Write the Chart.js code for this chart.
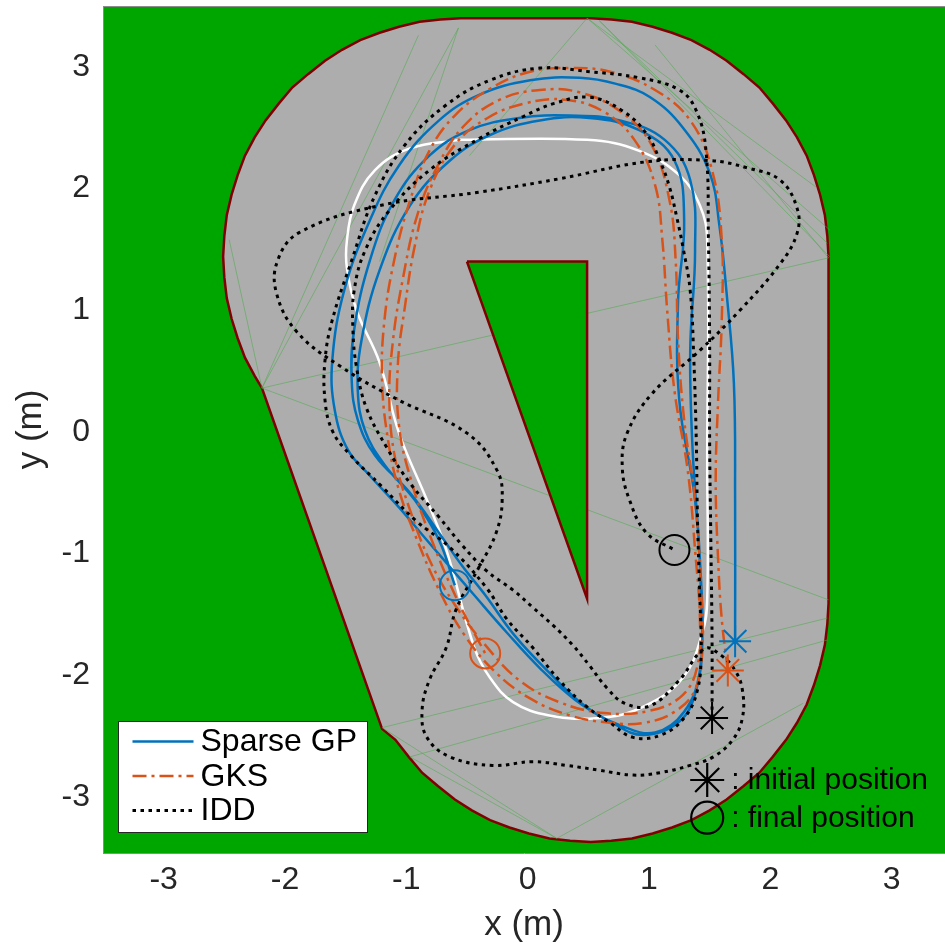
<!DOCTYPE html>
<html><head><meta charset="utf-8">
<script src="https://cdn.jsdelivr.net/npm/chart.js@4.4.1/dist/chart.umd.min.js"></script>
<style>html,body{margin:0;padding:0;background:#fff;overflow:hidden}canvas{display:block}</style>
</head><body>
<canvas id="c" width="945" height="950"></canvas>
<script>
// ---------- tick labels ----------
const xTicks = [-3, -2, -1, 0, 1, 2, 3];
const yTicks = [-3, -2, -1, 0, 1, 2, 3];
const seriesNames = ['Sparse GP', 'GKS', 'IDD'];
const noteTexts = [': initial position', ': final position'];

// ---------- environment (track outline & obstacle) ----------
const trackX = [2.48, 2.48, 2.47, 2.45, 2.41, 2.36, 2.30, 2.22, 2.13, 2.02, 1.91, 1.78, 1.64, 1.50, 1.35, 1.19, 1.03, 0.86, 0.69, 0.52,
  -0.55, -0.72, -0.89, -1.06, -1.22, -1.38, -1.53, -1.67, -1.81, -1.94, -2.05, -2.16, -2.25, -2.33, -2.39, -2.44, -2.48, -2.50, -2.51, -2.50, -2.48, -2.44, -2.39, -2.33, -2.25, -2.19,
  -1.20, -1.09, -0.98, -0.87, -0.74, -0.60, -0.46, -0.31, -0.15, 0.01, 0.18, 0.35, 0.52, 0.69, 0.86, 1.03, 1.19, 1.35, 1.50, 1.64, 1.78, 1.91, 2.02, 2.13, 2.22, 2.30, 2.36, 2.41, 2.45, 2.47, 2.48];
const trackY = [-1.41, 1.44, 1.61, 1.78, 1.95, 2.11, 2.27, 2.42, 2.56, 2.70, 2.83, 2.94, 3.05, 3.14, 3.22, 3.28, 3.33, 3.37, 3.39, 3.40,
  3.40, 3.39, 3.37, 3.33, 3.28, 3.22, 3.14, 3.05, 2.94, 2.83, 2.70, 2.56, 2.42, 2.27, 2.11, 1.95, 1.78, 1.61, 1.44, 1.27, 1.10, 0.93, 0.77, 0.61, 0.46, 0.36,
  -2.44, -2.53, -2.67, -2.80, -2.91, -3.02, -3.11, -3.19, -3.25, -3.30, -3.34, -3.36, -3.37, -3.36, -3.34, -3.30, -3.25, -3.19, -3.11, -3.02, -2.91, -2.80, -2.67, -2.53, -2.39, -2.24, -2.08, -1.92, -1.75, -1.58, -1.41];
const obstacleX = [-0.50, 0.49, 0.49, -0.50];
const obstacleY = [1.40, 1.40, -1.37, 1.40];

// triangulation mesh edges (segment endpoints)
const meshX1 = [0.49, 0.49, 0.59, 0.49, -2.19, -2.19, -2.19, -2.19, -2.19, -1.20, -0.97, -0.97, 0.24, -1.20, 1.05, 0.59, -0.57];
const meshY1 = [3.40, 3.40, 3.38, 3.40, 0.36, 0.36, 0.36, 0.36, 0.36, -2.43, -2.67, -2.67, -3.34, -2.43, 3.18, 3.38, 3.32];
const meshX2 = [2.38, 2.49, 2.49, -0.48, -0.57, -0.90, -2.46, 2.48, 2.48, 2.47, 2.47, 0.24, 2.27, 0.24, 2.48, 2.47, -1.22];
const meshY2 = [2.01, 1.66, 1.44, 2.27, 3.32, 3.26, 1.58, 1.43, -1.38, -1.53, -1.71, -3.34, -2.23, -3.34, 1.43, 1.55, 1.40];

// ---------- reference path (white) ----------
const refX = [-0.56, 0.49, 0.92, 1.25, 1.42, 1.48, 1.48, 1.48, 1.44, 1.28, 0.95, 0.59, 0.18, -0.12, -0.31, -0.44, -0.67, -0.83, -1.06, -1.22, -1.41, -1.49, -1.49, -1.43, -1.26, -0.97, -0.56];
const refY = [2.40, 2.40, 2.31, 2.11, 1.86, 1.57, -0.23, -1.38, -1.65, -2.02, -2.26, -2.35, -2.33, -2.22, -2.02, -1.77, -0.97, -0.56, -0.01, 0.57, 1.00, 1.35, 1.57, 1.86, 2.15, 2.33, 2.40];

// ---------- Sparse GP trajectory ----------
const sgpX = [1.71, 1.71, 1.70, 1.64, 1.58, 1.50, 1.28, 1.01, 0.73, 0.43, 0.02, -0.40, -0.73, -1.06, -1.30, -1.51, -1.61, -1.59, -1.48, -1.30, -1.06, -0.83, -0.64, -0.45, -0.17, 0.10, 0.39, 0.68, 0.95, 1.25, 1.39, 1.44, 1.42, 1.36, 1.34, 1.38, 1.34, 1.13, 0.76, 0.35, -0.07, -0.48, -0.81, -1.10, -1.30, -1.43, -1.45, -1.40, -1.26, -0.97, -0.73, -0.54, -0.35, -0.11, 0.17, 0.47, 0.76, 1.05, 1.29, 1.42, 1.43, 1.38, 1.25, 1.24, 1.29, 1.21, 0.92, 0.51, 0.10, -0.31, -0.64, -0.97, -1.22, -1.37, -1.40, -1.34, -1.18, -0.93, -0.73, -0.60];
const sgpY = [-1.72, -0.56, 0.40, 1.14, 1.70, 2.13, 2.50, 2.75, 2.86, 2.91, 2.89, 2.77, 2.56, 2.19, 1.74, 1.17, 0.59, 0.18, -0.15, -0.36, -0.62, -0.89, -1.11, -1.33, -1.65, -1.94, -2.20, -2.38, -2.49, -2.38, -2.12, -1.71, -1.05, -0.15, 0.67, 1.49, 2.07, 2.40, 2.56, 2.60, 2.58, 2.48, 2.27, 1.90, 1.41, 0.84, 0.42, 0.10, -0.19, -0.50, -0.83, -1.10, -1.34, -1.67, -1.97, -2.25, -2.41, -2.47, -2.30, -1.96, -1.38, -0.56, 0.26, 1.08, 1.74, 2.23, 2.48, 2.58, 2.56, 2.44, 2.23, 1.86, 1.33, 0.75, 0.34, 0.01, -0.27, -0.56, -0.89, -1.26];

// ---------- GKS trajectory ----------
const gksX = [1.65, 1.60, 1.57, 1.55, 1.57, 1.60, 1.60, 1.52, 1.34, 1.05, 0.68, 0.35, 0.02, -0.31, -0.60, -0.81, -0.97, -1.10, -1.18, -1.20, -1.15, -1.06, -0.91, -0.73, -0.52, -0.27, 0.02, 0.35, 0.68, 0.96, 1.21, 1.38, 1.44, 1.43, 1.38, 1.29, 1.24, 1.22, 1.17, 1.02, 0.77, 0.43, 0.10, -0.23, -0.52, -0.74, -0.91, -1.03, -1.11, -1.14, -1.09, -0.97, -0.81, -0.60, -0.35, -0.07, 0.26, 0.63, 1.01, 1.28, 1.40, 1.42, 1.38, 1.32, 1.21, 1.15, 1.11, 1.05, 0.88, 0.63, 0.31, -0.02, -0.33, -0.60, -0.81, -0.93, -1.01, -1.07, -1.06, -0.96, -0.79, -0.58, -0.35];
const gksY = [-1.96, -1.54, -1.05, -0.40, 0.26, 0.92, 1.58, 2.15, 2.56, 2.81, 2.96, 2.99, 2.96, 2.82, 2.60, 2.31, 1.90, 1.41, 0.92, 0.42, -0.07, -0.48, -0.89, -1.30, -1.67, -1.97, -2.19, -2.33, -2.39, -2.39, -2.30, -2.12, -1.79, -1.30, -0.56, 0.10, 0.75, 1.41, 1.90, 2.36, 2.63, 2.79, 2.81, 2.73, 2.52, 2.19, 1.78, 1.25, 0.75, 0.26, -0.23, -0.64, -1.05, -1.42, -1.75, -2.04, -2.22, -2.31, -2.29, -2.16, -1.92, -1.54, -0.97, -0.32, 0.34, 1.00, 1.58, 2.03, 2.40, 2.63, 2.73, 2.70, 2.58, 2.36, 1.98, 1.53, 1.04, 0.55, 0.05, -0.40, -0.89, -1.38, -1.82];

// ---------- IDD trajectory ----------
const iddX = [1.52, 1.52, 1.51, 1.50, 1.50, 1.49, 1.47, 1.39, 1.25, 0.92, 0.51, 0.10, -0.31, -0.68, -1.01, -1.26, -1.45, -1.61, -1.67, -1.67, -1.61, -1.47, -1.20, -0.92, -0.64, -0.34, -0.17, 0.04, 0.26, 0.49, 0.68, 0.87, 1.10, 1.29, 1.40, 1.43, 1.42, 1.40, 1.39, 1.37, 1.34, 1.28, 1.23, 1.17, 1.09, 0.98, 0.78, 0.51, 0.22, -0.04, -0.40, -0.81, -1.14, -1.34, -1.43, -1.44, -1.41, -1.33, -1.16, -0.97, -0.73, -0.54, -0.34, -0.12, 0.04, 0.21, 0.37, 0.51, 0.65, 0.80, 1.01, 1.25, 1.46, 1.60, 1.71, 1.77, 1.77, 1.69, 1.53, 1.34, 1.09, 0.87, 0.59, 0.32, 0.04, -0.29, -0.64, -0.83, -0.87, -0.81, -0.67, -0.59, -0.40, -0.26, -0.21, -0.25, -0.50, -1.06, -1.53, -1.90, -2.07, -2.06, -1.88, -1.22, -0.40, 0.26, 0.98, 1.50, 1.81, 2.08, 2.22, 2.22, 2.08, 1.75, 1.42, 1.03, 0.82, 0.78, 0.84, 0.98, 1.21];
const iddY = [-2.35, -1.71, -0.89, -0.07, 0.75, 1.58, 2.31, 2.64, 2.81, 2.91, 2.96, 2.99, 2.89, 2.68, 2.36, 1.94, 1.41, 0.92, 0.59, 0.26, 0.01, -0.18, -0.45, -0.73, -0.95, -1.28, -1.54, -1.77, -2.04, -2.26, -2.39, -2.51, -2.49, -2.35, -2.12, -1.79, -1.38, -0.73, -0.07, 0.59, 1.16, 1.52, 1.76, 2.01, 2.23, 2.45, 2.64, 2.75, 2.70, 2.59, 2.41, 2.15, 1.82, 1.49, 1.16, 0.84, 0.53, 0.20, -0.13, -0.42, -0.70, -0.93, -1.14, -1.30, -1.44, -1.59, -1.75, -1.92, -2.10, -2.23, -2.25, -2.04, -1.78, -1.84, -1.96, -2.12, -2.35, -2.53, -2.67, -2.74, -2.80, -2.82, -2.78, -2.74, -2.71, -2.74, -2.67, -2.51, -2.29, -2.04, -1.77, -1.46, -1.11, -0.83, -0.56, -0.32, -0.01, 0.26, 0.53, 0.82, 1.14, 1.41, 1.64, 1.86, 1.97, 2.08, 2.22, 2.23, 2.17, 2.07, 1.84, 1.63, 1.38, 1.00, 0.67, 0.32, -0.01, -0.29, -0.56, -0.83, -0.97];

// annotation marker positions
const noteX = [1.48, 1.48];
const noteY = [-2.86, -3.17];

// ---------- styling ----------
const FONT = "'Liberation Sans', Arial, Helvetica, sans-serif";
const C_GREEN = '#00A600', C_GRAY = '#ADADAD', C_WALL = '#800000';
const C_BLUE = '#0072BD', C_ORANGE = '#D95319', C_BLACK = '#000000';
const DASH_GKS = [14, 5, 3, 5], DASH_IDD = [3.5, 4.5];
Chart.defaults.font.family = FONT;

const zip = (xs, ys) => xs.map((x, i) => ({x: x, y: ys[i]}));
const ends = (xs, ys) => [{x: xs[0], y: ys[0]}, {x: xs[xs.length - 1], y: ys[ys.length - 1]}];

const seriesStyle = [
  {color: C_BLUE, width: 2.5, dash: []},
  {color: C_ORANGE, width: 2.5, dash: DASH_GKS},
  {color: C_BLACK, width: 3, dash: DASH_IDD}
];

function lineDs(label, xs, ys, st, order) {
  return {label: label, data: zip(xs, ys), showLine: true, borderColor: st.color, borderWidth: st.width,
    borderDash: st.dash, pointRadius: 0, tension: 0.4, fill: false, order: order, borderCapStyle: 'butt'};
}
function markerDs(xs, ys, color, order) {
  return {label: '_m', data: ends(xs, ys), showLine: false, pointStyle: ['star', 'circle'],
    pointRadius: [16, 15], borderColor: color, backgroundColor: 'rgba(0,0,0,0)', pointBorderWidth: 2,
    borderWidth: 2, order: order};
}
function noPad(s) { s.paddingTop = 0; s.paddingBottom = 0; s.paddingLeft = 0; s.paddingRight = 0; }

const bgPlugin = {
  id: 'bg',
  beforeDraw(chart) {
    const {ctx, chartArea: a} = chart;
    ctx.save(); ctx.fillStyle = C_GREEN; ctx.fillRect(a.left, a.top, a.right - a.left, a.bottom - a.top); ctx.restore();
  }
};

const meshPlugin = {
  id: 'mesh',
  afterDatasetDraw(chart, args) {
    if (args.index !== 0) return;
    const {ctx, chartArea: a, scales: {x, y}} = chart;
    ctx.save();
    ctx.beginPath(); ctx.rect(a.left, a.top, a.right - a.left, a.bottom - a.top); ctx.clip();
    ctx.strokeStyle = 'rgba(70,170,70,0.75)'; ctx.lineWidth = 0.7;
    for (let i = 0; i < meshX1.length; i++) {
      ctx.beginPath();
      ctx.moveTo(x.getPixelForValue(meshX1[i]), y.getPixelForValue(meshY1[i]));
      ctx.lineTo(x.getPixelForValue(meshX2[i]), y.getPixelForValue(meshY2[i]));
      ctx.stroke();
    }
    ctx.restore();
  }
};

const overlayPlugin = {
  id: 'overlay',
  afterDraw(chart) {
    const {ctx, chartArea: a, scales: {x, y}} = chart;
    ctx.save();
    // frame top
    ctx.strokeStyle = '#8c8c8c'; ctx.lineWidth = 1;
    ctx.beginPath(); ctx.moveTo(a.left, a.top + 0.5); ctx.lineTo(a.right, a.top + 0.5); ctx.stroke();
    // annotation texts
    ctx.fillStyle = '#000'; ctx.font = '30px ' + FONT; ctx.textAlign = 'left'; ctx.textBaseline = 'alphabetic';
    for (let i = 0; i < noteTexts.length; i++) {
      ctx.fillText(noteTexts[i], x.getPixelForValue(noteX[i]) + 24, y.getPixelForValue(noteY[i]) + 9);
    }
    // legend
    const bx = a.left + 15.5, by = a.bottom - 131.5, bw = 249, bh = 111;
    ctx.fillStyle = '#fff'; ctx.fillRect(bx, by, bw, bh);
    ctx.strokeStyle = '#262626'; ctx.lineWidth = 1; ctx.strokeRect(bx, by, bw, bh);
    ctx.font = '32px ' + FONT; ctx.textBaseline = 'middle';
    for (let i = 0; i < seriesNames.length; i++) {
      const yy = by + 20 + i * 34.5;
      const st = seriesStyle[i];
      ctx.strokeStyle = st.color; ctx.lineWidth = st.width; ctx.setLineDash(st.dash); ctx.lineCap = 'butt';
      ctx.beginPath(); ctx.moveTo(bx + 14, yy); ctx.lineTo(bx + 75, yy); ctx.stroke();
      ctx.setLineDash([]);
      ctx.fillStyle = '#000'; ctx.fillText(seriesNames[i], bx + 82, yy + 1);
    }
    ctx.restore();
  }
};

new Chart(document.getElementById('c'), {
  type: 'scatter',
  data: {
    datasets: [
      {label: '_track', data: zip(trackX, trackY), showLine: true, fill: 'shape', backgroundColor: C_GRAY,
        borderColor: C_WALL, borderWidth: 2.5, pointRadius: 0, tension: 0, order: 20},
      {label: '_obstacle', data: zip(obstacleX, obstacleY), showLine: true, fill: 'shape', backgroundColor: C_GREEN,
        borderColor: C_WALL, borderWidth: 2.5, pointRadius: 0, tension: 0, order: 19},
      {label: '_ref', data: zip(refX, refY), showLine: true, borderColor: '#FFFFFF', borderWidth: 2.5,
        pointRadius: 0, tension: 0.4, fill: false, order: 18},
      lineDs(seriesNames[0], sgpX, sgpY, seriesStyle[0], 17),
      lineDs(seriesNames[1], gksX, gksY, seriesStyle[1], 16),
      lineDs(seriesNames[2], iddX, iddY, seriesStyle[2], 15),
      markerDs(sgpX, sgpY, C_BLUE, 3),
      markerDs(gksX, gksY, C_ORANGE, 2),
      markerDs(iddX, iddY, C_BLACK, 1),
      {label: '_notes', data: zip(noteX, noteY), showLine: false, pointStyle: ['star', 'circle'], pointRadius: [17, 16],
        borderColor: C_BLACK, backgroundColor: 'rgba(0,0,0,0)', pointBorderWidth: 2.2, borderWidth: 2.2, order: 0, clip: false}
    ]
  },
  options: {
    responsive: false, animation: false, devicePixelRatio: 1,
    layout: {autoPadding: false, padding: {top: 6, right: 0, left: 0, bottom: 0}},
    plugins: {legend: {display: false}, tooltip: {enabled: false}},
    scales: {
      x: {
        type: 'linear', position: 'bottom', min: -3.5, max: 3.44,
        grid: {display: false, drawTicks: false}, border: {display: true, color: '#8c8c8c'},
        afterBuildTicks: s => { s.ticks = xTicks.map(v => ({value: v})); },
        afterFit: s => { s.height = 97; noPad(s); },
        ticks: {font: {size: 32}, color: '#262626', padding: 8, maxRotation: 0, autoSkip: false, callback: v => String(v)},
        title: {display: true, text: 'x (m)', font: {size: 35}, color: '#262626', padding: {top: 0, bottom: 4}}
      },
      y: {
        type: 'linear', position: 'left', min: -3.46, max: 3.5,
        grid: {display: false, drawTicks: false}, border: {display: true, color: '#8c8c8c'},
        afterBuildTicks: s => { s.ticks = yTicks.map(v => ({value: v})); },
        afterFit: s => { s.width = 103; noPad(s); },
        ticks: {font: {size: 32}, color: '#262626', padding: 13, autoSkip: false, callback: v => String(v)},
        title: {display: true, text: 'y (m)', font: {size: 35}, color: '#262626', padding: {top: 10, bottom: 0}}
      }
    }
  },
  plugins: [bgPlugin, meshPlugin, overlayPlugin]
});
</script>
</body></html>
